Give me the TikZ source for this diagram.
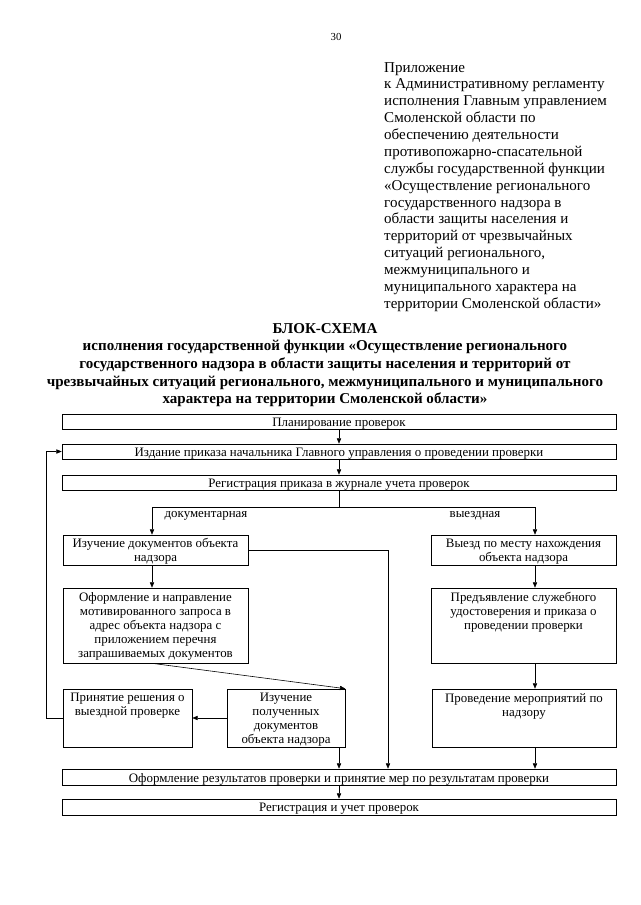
\documentclass[tikz,border=0pt]{standalone}
\usepackage{fontspec}
\setmainfont{Liberation Serif}
\usetikzlibrary{arrows.meta,calc}
\begin{document}
\begin{tikzpicture}[x=0.9302pt,y=-0.9302pt,
  box/.style={draw, line width=0.55pt, inner sep=0pt},
  wide/.style={box, minimum width=515.3pt, minimum height=13.95pt},
  ctxt/.style={font=\fontsize{12}{13}\selectfont, align=center, inner sep=0pt},
  toptxt/.style={ctxt, anchor=north},
  lbl/.style={font=\fontsize{12}{13}\selectfont, inner sep=0pt},
  ln/.style={line width=0.55pt},
  arr/.style={line width=0.55pt, -{Triangle[length=5pt,width=4pt]}}]
\useasboundingbox (0,0) rectangle (640,905);
\fill[white] (0,0) rectangle (640,905);

% page number
\node[font=\fontsize{10}{12}\selectfont] (pg) at (336,37) {30};

% header block
\node[anchor=north west, align=left, inner sep=0pt, font=\fontsize{14}{15.7}\selectfont] (hdr) at (384,62) {Приложение\\
к Административному регламенту\\
исполнения Главным управлением\\
Смоленской области по\\
обеспечению деятельности\\
противопожарно-спасательной\\
службы государственной функции\\
«Осуществление регионального\\
государственного надзора в\\
области защиты населения и\\
территорий от чрезвычайных\\
ситуаций регионального,\\
межмуниципального и\\
муниципального характера на\\
территории Смоленской области»};

% title
\node[anchor=north, align=center, inner sep=0pt, font=\bfseries\fontsize{14}{16.4}\selectfont] (ttl) at (325,323) {БЛОК-СХЕМА\\
исполнения государственной функции «Осуществление регионального\\
государственного надзора в области защиты населения и территорий от\\
чрезвычайных ситуаций регионального, межмуниципального и муниципального\\
характера на территории Смоленской области»};

% wide boxes
\node[wide] (b1) at (339,421.5) {};
\node[ctxt] (b1t) at ($(b1.center)+(0,2)$) {Планирование проверок};
\node[wide] (b2) at (339,451.5) {};
\node[ctxt] (b2t) at ($(b2.center)+(0,2)$) {Издание приказа начальника Главного управления о проведении проверки};
\node[wide] (b3) at (339,482.5) {};
\node[ctxt] (b3t) at ($(b3.center)+(0,2)$) {Регистрация приказа в журнале учета проверок};

% left column
\node[box, minimum width=172.1pt, minimum height=27.9pt] (a) at (155.5,550) {};
\node[ctxt] (at) at ($(a.center)+(0,1.5)$) {Изучение документов объекта\\надзора};
\node[box, minimum width=172.1pt, minimum height=69.8pt] (b) at (155.5,625.5) {};
\node[ctxt] (bt) at ($(b.center)+(0,1)$) {Оформление и направление\\мотивированного запроса в\\адрес объекта надзора с\\приложением перечня\\запрашиваемых документов};
\node[box, minimum width=120pt, minimum height=54pt] (d) at (127.5,718) {};
\node[toptxt] (dt) at ($(d.north)+(0,4.5)$) {Принятие решения о\\выездной проверке};
\node[box, minimum width=109.8pt, minimum height=54pt] (c) at (286,718) {};
\node[ctxt] (ct) at ($(c.center)+(0,1.5)$) {Изучение\\полученных\\документов\\объекта надзора};

% right column
\node[box, minimum width=172.1pt, minimum height=27.9pt] (r1) at (523.5,550) {};
\node[ctxt] (r1t) at ($(r1.center)+(0,1.5)$) {Выезд по месту нахождения\\объекта надзора};
\node[box, minimum width=172.1pt, minimum height=69.8pt] (r2) at (523.5,625.5) {};
\node[toptxt] (r2t) at ($(r2.north)+(0,4.5)$) {Предъявление служебного\\удостоверения и приказа о\\проведении проверки};
\node[box, minimum width=171.2pt, minimum height=54pt] (r3) at (524,718) {};
\node[toptxt] (r3t) at ($(r3.north)+(0,4.5)$) {Проведение мероприятий по\\надзору};

% bottom wide boxes
\node[wide, minimum height=14.88pt] (w5) at (339,777) {};
\node[ctxt] (w5t) at ($(w5.center)+(0,2)$) {Оформление результатов проверки и принятие мер по результатам проверки};
\node[wide, minimum height=14.88pt] (w6) at (339,807) {};
\node[ctxt] (w6t) at ($(w6.center)+(0,2)$) {Регистрация и учет проверок};

% helper coordinates
\coordinate (bl) at (152,507);
\coordinate (brr) at (535,507);
\coordinate (lp) at (46,0);
\coordinate (vl) at (388,0);
\coordinate (cx) at (339,0);

% branch labels
\node[lbl] (ld) at (206,516) {документарная};
\node[lbl] (lv) at (475,516) {выездная};

% connectors
\draw[arr] (b1.south) -- (b2.north);
\draw[arr] (b2.south) -- (b3.north);
\draw[ln] (b3.south) -- (b3.south |- bl);
\draw[ln] (bl) -- (brr);
\draw[arr] (bl) -- (bl |- a.north);
\draw[arr] (brr) -- (brr |- r1.north);

\draw[arr] (bl |- a.south) -- (bl |- b.north);
\draw[arr] (a.east) -- (a.east -| vl) -- (vl |- w5.north);
\draw[arr] (bl |- b.south) -- (c.north east);
\draw[arr] (c.west) -- (d.east);
\draw[arr] (d.west) -- (d.west -| lp) -- (b2.west -| lp) -- (b2.west);
\draw[arr] (cx |- c.south) -- (cx |- w5.north);

\draw[arr] (brr |- r1.south) -- (brr |- r2.north);
\draw[arr] (brr |- r2.south) -- (brr |- r3.north);
\draw[arr] (brr |- r3.south) -- (brr |- w5.north);

\draw[arr] (w5.south) -- (w6.north);
\end{tikzpicture}
\end{document}
